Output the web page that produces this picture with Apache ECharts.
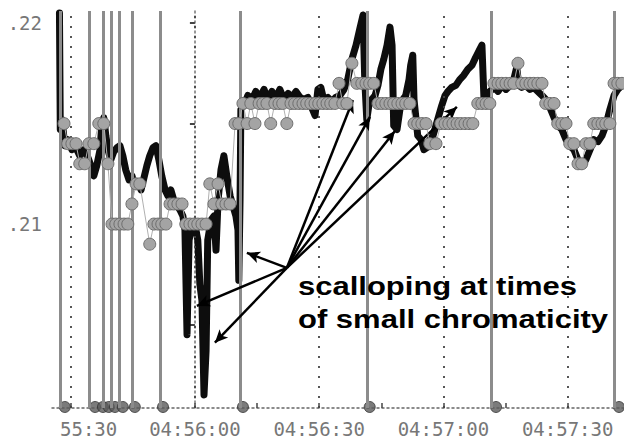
<!DOCTYPE html>
<html><head><meta charset="utf-8">
<script src="https://cdn.jsdelivr.net/npm/echarts@6/dist/echarts.min.js"></script>
<style>html,body{margin:0;padding:0;background:#fff}#c{width:624px;height:439px}</style>
</head><body><div id="c"></div>
<script>
// time in seconds relative to 04:56:00
const BASE_SEC = 4 * 3600 + 56 * 60;

const blackTime = [-32.7,-32.5,-32.1,-31.4,-30.7,-29.7,-28.7,-27.8,-26.8,-25.8,-25.1,-24.4,-23.7,-22.9,-22.5,-22.0,-21.5,-21.0,-20.3,-19.6,-18.8,-18.1,-17.4,-16.7,-15.9,-15.2,-14.5,-13.8,-13.0,-12.3,-11.6,-10.9,-10.1,-9.4,-8.7,-8.0,-7.2,-6.5,-5.8,-5.1,-4.3,-3.6,-2.9,-2.4,-1.9,-1.4,-0.7,0,0.7,1.2,1.7,2.2,2.7,3.1,3.9,4.6,5.1,5.6,6.3,7.0,7.7,8.5,9.2,9.9,10.4,10.6,10.9,11.1,11.8,12.8,13.8,14.7,15.7,16.7,17.6,18.6,19.6,20.5,21.5,22.5,23.4,24.4,25.4,26.3,27.3,28.2,29.0,29.7,30.4,31.1,32.1,33.1,34.0,35.0,36.0,36.9,37.9,38.9,39.8,40.6,41.0,41.5,42.0,42.7,43.5,44.2,44.9,45.6,46.4,47.1,47.6,48.0,48.8,49.5,50.2,50.9,51.7,52.1,52.6,52.9,53.4,53.8,54.6,55.3,56.0,56.7,57.5,58.2,58.9,59.6,60.4,61.1,62.0,63.0,64.0,64.9,65.9,66.9,67.8,68.8,69.3,69.8,70.5,71.2,72.2,73.2,74.1,75.1,76.1,77.0,77.7,78.2,78.9,79.9,80.9,81.8,82.8,83.8,84.7,85.7,86.7,87.6,88.6,89.6,90.5,91.5,92.5,93.4,94.4,95.4,96.3,97.3,98.3,99.2,100.2,101.2,102.1,103.1,104];
const blackValue = [0.2205,0.2147,0.2152,0.2139,0.2142,0.2137,0.2138,0.2134,0.2137,0.2133,0.2129,0.2124,0.2129,0.2137,0.2149,0.2153,0.2144,0.2137,0.2132,0.2136,0.2138,0.2139,0.2134,0.2127,0.2122,0.2124,0.2119,0.2121,0.2117,0.2123,0.2129,0.2134,0.2138,0.2139,0.2132,0.2124,0.2117,0.2114,0.2117,0.2112,0.2109,0.2107,0.2104,0.2097,0.2045,0.2092,0.2100,0.2100,0.2092,0.2070,0.2062,0.2015,0.2037,0.2092,0.2102,0.2104,0.2087,0.2112,0.2127,0.2134,0.2124,0.2114,0.2109,0.2104,0.2097,0.2072,0.2112,0.2157,0.2159,0.2164,0.2162,0.2166,0.2163,0.2167,0.2162,0.2166,0.2163,0.2167,0.2162,0.2165,0.2163,0.2166,0.2163,0.2162,0.2163,0.2158,0.2154,0.2167,0.2168,0.2162,0.2163,0.2161,0.2163,0.2164,0.2167,0.2172,0.2182,0.2189,0.2197,0.2204,0.2172,0.2152,0.2159,0.2162,0.2164,0.2169,0.2177,0.2182,0.2189,0.2198,0.2189,0.2149,0.2147,0.2157,0.2162,0.2164,0.2172,0.2179,0.2184,0.2162,0.2152,0.2144,0.2142,0.2137,0.2138,0.2142,0.2144,0.2149,0.2154,0.2159,0.2164,0.2166,0.2168,0.2169,0.2172,0.2174,0.2177,0.2179,0.2183,0.2187,0.2189,0.2162,0.2163,0.2166,0.2168,0.2166,0.2169,0.2167,0.2169,0.2172,0.2178,0.2169,0.2168,0.2169,0.2167,0.2168,0.2166,0.2164,0.2162,0.2158,0.2153,0.2149,0.2147,0.2142,0.2139,0.2137,0.2132,0.2129,0.2132,0.2137,0.2142,0.2141,0.2144,0.2149,0.2157,0.2164,0.2167,0.2169,0.2169];

const grayTime = [-31.6,-30.7,-29.7,-28.7,-27.8,-26.6,-25.6,-24.4,-23.2,-22.0,-21.0,-20.0,-19.1,-18.1,-17.1,-16.2,-15.2,-14.2,-13.3,-10.9,-9.9,-8.9,-8.0,-7.0,-6.0,-5.1,-4.1,-3.1,-2.2,-1.2,-0.2,0.7,1.7,2.7,3.6,4.6,5.6,6.5,7.5,8.5,9.7,10.6,11.6,12.6,13.5,14.5,15.5,16.4,17.4,18.3,19.3,20.3,21.2,22.2,23.2,24.1,25.1,26.1,27.0,28.0,29.0,29.9,30.9,31.9,32.8,33.8,34.8,35.7,36.7,37.9,39.1,40.3,41.3,42.2,43.2,44.2,45.1,46.1,47.1,48.0,49.0,50.0,50.9,51.9,52.9,53.8,54.8,55.8,56.7,58.2,59.4,60.4,61.3,62.3,63.3,64.2,65.2,66.2,67.1,68.3,69.3,70.3,71.2,72.2,73.2,74.1,75.1,76.1,77.0,78.0,78.9,79.9,80.9,81.8,82.8,83.8,84.7,85.7,86.7,87.6,88.6,89.6,90.5,91.5,92.5,93.4,94.4,95.4,96.3,97.3,98.3,99.2,100.2,101.2,102.1,103.1];
const grayValue = [0.215,0.214,0.214,0.214,0.213,0.213,0.214,0.214,0.215,0.215,0.213,0.210,0.210,0.210,0.210,0.210,0.211,0.212,0.212,0.209,0.210,0.210,0.210,0.210,0.211,0.211,0.211,0.211,0.210,0.210,0.210,0.210,0.210,0.210,0.212,0.211,0.212,0.211,0.211,0.211,0.215,0.215,0.216,0.215,0.216,0.215,0.216,0.216,0.216,0.215,0.216,0.216,0.216,0.215,0.216,0.216,0.216,0.216,0.216,0.216,0.216,0.216,0.216,0.216,0.216,0.216,0.217,0.216,0.216,0.218,0.217,0.217,0.217,0.217,0.217,0.216,0.216,0.216,0.216,0.216,0.216,0.216,0.216,0.216,0.215,0.215,0.215,0.215,0.214,0.214,0.215,0.215,0.215,0.215,0.215,0.215,0.215,0.215,0.215,0.216,0.216,0.216,0.216,0.217,0.217,0.217,0.217,0.217,0.217,0.218,0.217,0.217,0.217,0.217,0.217,0.217,0.216,0.216,0.216,0.215,0.215,0.215,0.214,0.214,0.213,0.213,0.214,0.214,0.215,0.215,0.215,0.215,0.215,0.217,0.217,0.217];

const spikeTimes = [-32.6,-25.6,-22.2,-20.3,-18.3,-15.2,-8.4,10.9,41.5,71.5,101.2];
const spikeDotTimes = [-31.4,-24.1,-22.2,-20.8,-19.3,-17.4,-14.5,-7.7,11.6,42.2,72.7,102.4];

const gridTimes = [-30, 0, 30, 60, 90];
const xTickValues = [-30, -15, 0, 15, 30, 45, 60, 75, 90];
const xLabelValues = [-30, 0, 30, 60, 90];
const yTickValues = [0.205, 0.21, 0.215, 0.22];
const yLabelValues = [0.21, 0.22];

const arrowFrom = [22.2, 0.20782];
const arrowTo = [[12.55, 0.20857], [0.48, 0.20593], [4.83, 0.2041], [38.15, 0.21617], [42.25, 0.21533], [48.3, 0.21463], [63.25, 0.21583]];
const noteLines = ['scalloping at times', 'of small chromaticity'];

const X_MIN = -34.5, X_MAX = 103.6, Y_MIN = 0.20085, Y_MAX = 0.2206;

const zip = (a, b) => a.map((v, i) => [v, b[i]]);
const pad = n => String(n).padStart(2, '0');
function fmtTime(v) {
  const s = BASE_SEC + Math.round(v);
  const hh = Math.floor(s / 3600), mm = Math.floor((s % 3600) / 60), ss = s % 60;
  if (v < 0) return '{p|' + pad(mm) + ':' + pad(ss) + '}';
  return pad(hh) + ':' + pad(mm) + ':' + pad(ss);
}

const chart = echarts.init(document.getElementById('c'), null, { renderer: 'svg' });
const labelFont = { fontFamily: 'DejaVu Sans Mono', fontSize: 19, color: '#777' };

chart.setOption({
  animation: false,
  backgroundColor: '#fff',
  grid: { left: 52, right: 0, top: 11, bottom: 31, containLabel: false },
  xAxis: {
    type: 'value', min: X_MIN, max: X_MAX,
    axisLine: { show: true, lineStyle: { color: '#666', width: 1.5, type: [2, 3] } },
    axisTick: { show: true, inside: true, length: 5, customValues: xTickValues, lineStyle: { color: '#444', width: 1.5 } },
    axisLabel: Object.assign({ customValues: xLabelValues, margin: 11, formatter: fmtTime,
      rich: { p: Object.assign({ padding: [0, 0, 0, 36] }, labelFont) } }, labelFont),
    splitLine: { show: false }
  },
  yAxis: {
    type: 'value', min: Y_MIN, max: Y_MAX,
    axisLine: { show: true, lineStyle: { color: '#777', width: 1.5, type: [2, 3] } },
    axisTick: { show: true, inside: false, length: 5, customValues: yTickValues, lineStyle: { color: '#444', width: 2 } },
    axisLabel: Object.assign({ customValues: yLabelValues, margin: 10,
      formatter: v => '.' + Math.round(v * 100) }, labelFont),
    splitLine: { show: false }
  },
  graphic: noteLines.map((t, i) => ({
    type: 'text', x: 298, y: 287 + i * 33, scaleX: 1.24, z: 100,
    style: { text: t, font: 'bold 25px "Liberation Sans", Arial, sans-serif', fill: '#000',
      textAlign: 'left', textVerticalAlign: 'middle' }
  })),
  series: [
    { // dotted time grid lines
      type: 'line', data: [[X_MIN, Y_MIN]], symbol: 'none', silent: true, z: 1,
      lineStyle: { width: 0 },
      markLine: { silent: true, symbol: ['none', 'none'], label: { show: false },
        lineStyle: { color: '#444', width: 1.8, type: [2, 8] },
        data: gridTimes.map(t => ({ xAxis: t })) }
    },
    { // gray vertical marker lines
      type: 'line', data: [[X_MIN, Y_MIN]], symbol: 'none', silent: true, z: 2,
      lineStyle: { width: 0 },
      markLine: { silent: true, symbol: ['none', 'none'], label: { show: false },
        lineStyle: { color: '#8c8c8c', width: 3, type: 'solid' },
        data: spikeTimes.map(t => ({ xAxis: t })) }
    },
    { // markers at the bottom of the vertical lines
      type: 'scatter', z: 3, symbol: 'circle', symbolSize: 11,
      itemStyle: { color: '#5a5a5a', borderColor: '#333', borderWidth: 1 },
      data: spikeDotTimes.map(t => [t, 0.2009])
    },
    { // measured (black)
      type: 'line', z: 4, data: zip(blackTime, blackValue), symbol: 'none',
      lineStyle: { color: '#0d0d0d', width: 7, join: 'round', cap: 'round' }
    },
    { // quantized (gray circles)
      type: 'line', z: 5, data: zip(grayTime, grayValue), symbol: 'circle', symbolSize: 12,
      lineStyle: { color: '#b0b0b0', width: 1 },
      itemStyle: { color: '#a4a4a4', borderColor: '#6e6e6e', borderWidth: 1 }
    },
    { // annotation arrows
      type: 'line', data: [[X_MIN, Y_MIN]], symbol: 'none', silent: true, z: 6,
      lineStyle: { width: 0 },
      markLine: { silent: true, symbol: ['none', 'arrow'], symbolSize: [9, 13], label: { show: false },
        lineStyle: { color: '#000', width: 2.5, type: 'solid' },
        data: arrowTo.map(p => [{ coord: arrowFrom }, { coord: p }]) }
    }
  ]
});
</script></body></html>
